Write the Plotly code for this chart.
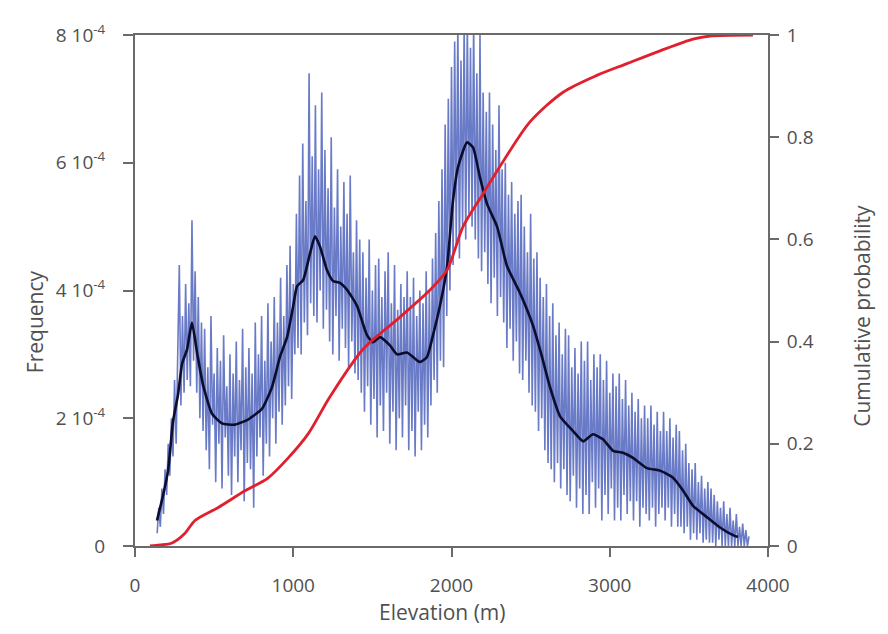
import plotly.graph_objects as go

# ---------------- data (frequency in units of 1e-4) ----------------
raw_start = 140   # first elevation bin of the raw histogram (m)
raw_step = 10     # bin width (m)
raw_freq_e4 = [
    0.2, 0.6, 0.3, 0.9, 0.5, 1.2, 0.8, 1.6, 1.1, 2.0,      # 140-230
    1.4, 2.6, 1.6, 3.0, 4.4, 2.2, 3.6, 2.4, 4.1, 2.6,      # 240-330
    3.8, 2.5, 5.1, 2.9, 4.3, 2.4, 3.9, 2.0, 3.5, 1.8,      # 340-430
    3.4, 1.5, 2.8, 1.2, 3.6, 1.9, 2.7, 1.0, 3.1, 1.6,      # 440-530
    2.9, 0.9, 3.3, 1.7, 2.5, 1.1, 3.0, 0.8, 2.7, 1.4,      # 540-630
    3.2, 1.0, 2.6, 1.5, 3.4, 0.7, 2.8, 1.3, 3.1, 1.2,      # 640-730
    2.7, 0.6, 3.5, 1.4, 3.0, 1.7, 3.6, 1.1, 2.9, 1.6,      # 740-830
    3.8, 1.4, 3.2, 2.0, 3.9, 1.6, 3.5, 2.1, 4.2, 1.9,      # 840-930
    3.6, 2.2, 4.4, 2.5, 4.7, 2.3, 4.1, 3.0, 5.2, 3.1,      # 940-1030
    5.8, 3.0, 6.3, 3.5, 5.4, 3.3, 7.4, 3.8, 6.1, 3.6,      # 1040-1130
    6.9, 3.5, 5.9, 4.0, 7.1, 3.4, 6.2, 3.7, 5.6, 3.2,      # 1140-1230
    6.4, 3.0, 5.3, 3.6, 5.9, 2.9, 5.0, 3.4, 5.7, 3.1,      # 1240-1330
    5.2, 2.8, 5.8, 3.2, 4.6, 2.7, 5.1, 2.6, 4.8, 2.4,      # 1340-1430
    4.6, 2.1, 4.2, 2.5, 4.8, 1.9, 4.0, 2.3, 4.4, 1.7,      # 1440-1530
    4.5, 2.2, 3.9, 1.8, 4.3, 2.4, 4.6, 1.6, 3.8, 2.1,      # 1540-1630
    4.4, 1.5, 3.7, 2.0, 4.1, 1.7, 3.9, 2.2, 4.3, 1.5,      # 1640-1730
    3.9, 1.8, 4.2, 1.4, 3.6, 2.1, 4.0, 1.5, 3.8, 1.9,      # 1740-1830
    4.3, 1.7, 4.0, 2.2, 4.5, 2.6, 4.9, 2.4, 5.4, 2.9,      # 1840-1930
    5.9, 2.8, 6.6, 3.6, 7.0, 4.0, 7.5, 4.4, 7.9, 4.7,      # 1940-2030
    8.2, 4.5, 7.6, 5.0, 8.2, 4.8, 8.2, 5.2, 7.8, 5.0,      # 2040-2130
    8.2, 4.8, 7.4, 4.5, 8.0, 4.3, 7.1, 4.6, 6.8, 4.1,      # 2140-2230
    7.1, 3.8, 6.6, 4.2, 6.2, 3.6, 6.9, 3.9, 5.9, 3.5,      # 2240-2330
    6.0, 3.1, 5.5, 3.4, 5.7, 2.9, 5.2, 3.2, 5.4, 2.7,      # 2340-2430
    5.5, 2.6, 5.0, 2.9, 4.6, 2.4, 5.2, 2.2, 4.5, 2.1,      # 2440-2530
    4.6, 1.8, 4.2, 2.0, 3.9, 1.5, 4.1, 1.3, 3.6, 1.2,      # 2540-2630
    3.8, 1.0, 3.3, 1.3, 3.5, 0.9, 3.0, 1.2, 3.4, 0.8,      # 2640-2730
    3.3, 0.7, 2.8, 1.1, 3.1, 0.6, 2.7, 0.9, 3.2, 0.5,      # 2740-2830
    2.9, 0.8, 3.2, 0.5, 2.6, 1.0, 3.0, 0.6, 2.8, 0.9,      # 2840-2930
    3.0, 0.4, 2.6, 0.8, 2.9, 0.5, 2.4, 0.9, 2.7, 0.4,      # 2940-3030
    2.5, 0.6, 2.7, 0.4, 2.3, 0.8, 2.6, 0.5, 2.2, 0.7,      # 3040-3130
    2.4, 0.4, 2.1, 0.7, 2.3, 0.3, 2.0, 0.6, 2.2, 0.5,      # 3140-3230
    2.0, 0.4, 2.2, 0.6, 1.9, 0.3, 2.1, 0.5, 1.8, 0.6,      # 3240-3330
    2.1, 0.4, 1.8, 0.6, 2.0, 0.3, 1.7, 0.5, 1.9, 0.3,      # 3340-3430
    1.8, 0.3, 1.5, 0.2, 1.6, 0.3, 1.3, 0.1, 1.2, 0.2,      # 3440-3530
    1.3, 0.1, 1.0, 0.2, 1.1, 0.05, 0.9, 0.1, 1.0, 0.05,    # 3540-3630
    0.9, 0.05, 0.8, 0.0, 0.7, 0.1, 0.6, 0.0, 0.7, 0.0,     # 3640-3730
    0.5, 0.0, 0.6, 0.0, 0.4, 0.0, 0.5, 0.0, 0.3, 0.0,      # 3740-3830
    0.35, 0.0, 0.25, 0.0, 0.15,                            # 3840-3880
]
raw_elev = [raw_start + raw_step * i for i in range(len(raw_freq_e4))]

smooth_elev = [139, 177, 209, 240, 272, 297, 329, 360, 392, 430, 487, 550, 632, 714,
               803, 866, 916, 961, 998, 1024, 1062, 1106, 1137, 1169, 1213, 1251, 1295,
               1340, 1403, 1466, 1504, 1548, 1611, 1656, 1719, 1801, 1845, 1883, 1927,
               1972, 2009, 2041, 2098, 2136, 2180, 2224, 2288, 2351, 2433, 2515, 2572,
               2622, 2686, 2768, 2831, 2894, 2957, 3021, 3084, 3147, 3235, 3318, 3400,
               3463, 3526, 3615, 3697, 3779, 3810]
smooth_freq_e4 = [0.40, 0.79, 1.18, 1.95, 2.37, 2.85, 3.08, 3.50, 3.03, 2.52, 2.07, 1.92,
                  1.90, 1.98, 2.15, 2.49, 2.96, 3.27, 3.73, 4.07, 4.16, 4.58, 4.85, 4.69,
                  4.32, 4.15, 4.12, 4.01, 3.76, 3.30, 3.19, 3.27, 3.14, 3.00, 3.03, 2.88,
                  2.96, 3.30, 3.76, 4.38, 5.40, 5.93, 6.32, 6.24, 5.77, 5.36, 5.00, 4.38,
                  3.96, 3.45, 2.96, 2.49, 2.03, 1.80, 1.64, 1.75, 1.67, 1.49, 1.46, 1.38,
                  1.22, 1.18, 1.07, 0.87, 0.63, 0.45, 0.29, 0.17, 0.14]

cdf_elev = [95, 158, 234, 316, 379, 524, 695, 840, 967, 1093, 1232, 1441, 1656, 1864,
            1972, 2073, 2199, 2325, 2496, 2705, 2919, 3109, 3318, 3526, 3634, 3905]
cdf_prob = [0.0, 0.002, 0.006, 0.025, 0.050, 0.075, 0.108, 0.133, 0.172, 0.219, 0.292,
            0.385, 0.443, 0.501, 0.540, 0.625, 0.689, 0.752, 0.830, 0.888, 0.921, 0.944,
            0.969, 0.992, 0.998, 1.0]

x_ticks = [0, 1000, 2000, 3000, 4000]
y_ticks = [0, 2, 4, 6, 8]
y_ticktext = ["0", "2 10<sup>-4</sup>", "4 10<sup>-4</sup>", "6 10<sup>-4</sup>", "8 10<sup>-4</sup>"]
y2_ticks = [0, 0.2, 0.4, 0.6, 0.8, 1]
y2_ticktext = ["0", "0.2", "0.4", "0.6", "0.8", "1"]

# ---------------- figure ----------------
FONT = "Open Sans"
AX = "#6a6a6a"
TXT = "#505050"
TICK_SIZE = 19
TITLE_SIZE = 21

fig = go.Figure()
fig.add_trace(go.Scatter(x=raw_elev, y=raw_freq_e4, mode="lines",
                         line=dict(color="rgba(84,104,190,0.88)", width=1.6),
                         hoverinfo="skip", showlegend=False))
fig.add_trace(go.Scatter(x=smooth_elev, y=smooth_freq_e4, mode="lines",
                         line=dict(color="#0c0c2c", width=2.6, shape="spline", smoothing=0.5),
                         showlegend=False))
fig.add_trace(go.Scatter(x=cdf_elev, y=cdf_prob, mode="lines", yaxis="y2",
                         line=dict(color="#e0202e", width=2.8, shape="spline", smoothing=0.8),
                         showlegend=False))

fig.update_layout(
    width=888, height=634,
    margin=dict(l=127, r=128, t=20, b=96),
    paper_bgcolor="white", plot_bgcolor="white",
    font=dict(family=FONT, size=TICK_SIZE, color=TXT),
    xaxis=dict(range=[0, 4000], tickvals=x_ticks, ticks="outside", ticklen=9,
               tickwidth=1.5, tickcolor=AX, showline=True, linecolor=AX, linewidth=2,
               mirror=True, showgrid=False, zeroline=False, ticklabelstandoff=12,
               tickfont=dict(family=FONT, size=TICK_SIZE, color=TXT)),
    yaxis=dict(range=[0, 8], tickvals=y_ticks, ticktext=y_ticktext, ticks="outside",
               ticklen=10, tickwidth=1.5, tickcolor=AX, showline=True, linecolor=AX,
               linewidth=2, showgrid=False, zeroline=False, ticklabelstandoff=14,
               tickfont=dict(family=FONT, size=TICK_SIZE, color=TXT)),
    yaxis2=dict(range=[0, 1], tickvals=y2_ticks, ticktext=y2_ticktext, overlaying="y",
                side="right", ticks="outside", ticklen=9, tickwidth=1.5, tickcolor=AX,
                showline=True, linecolor=AX, linewidth=2, showgrid=False, zeroline=False,
                ticklabelstandoff=4, tickfont=dict(family=FONT, size=TICK_SIZE, color=TXT)),
    annotations=[
        dict(text="Elevation (m)", xref="paper", yref="paper", x=0.485, y=-0.130,
             xanchor="center", yanchor="middle", showarrow=False,
             font=dict(family=FONT, size=TITLE_SIZE, color=TXT)),
        dict(text="Frequency", xref="paper", yref="paper", x=-0.158, y=0.44,
             xanchor="center", yanchor="middle", textangle=-90, showarrow=False,
             font=dict(family=FONT, size=TITLE_SIZE, color=TXT)),
        dict(text="Cumulative probability", xref="paper", yref="paper", x=1.148, y=0.45,
             xanchor="center", yanchor="middle", textangle=-90, showarrow=False,
             font=dict(family=FONT, size=TITLE_SIZE, color=TXT)),
    ],
)

fig.write_html("out.html")
